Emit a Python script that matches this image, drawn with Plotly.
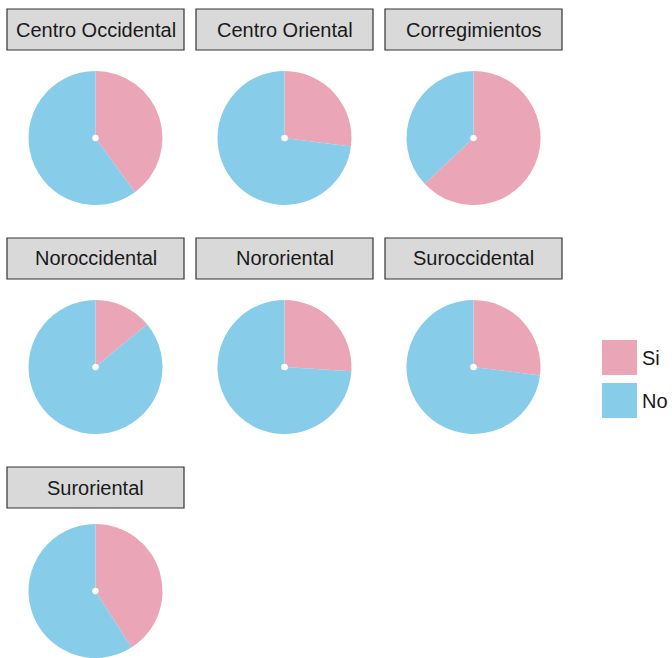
import plotly.graph_objects as go

# data
zonas = ["Centro Occidental", "Centro Oriental", "Corregimientos",
         "Noroccidental", "Nororiental", "Suroccidental", "Suroriental"]
si = [0.40, 0.27, 0.63, 0.14, 0.26, 0.27, 0.41]
no = [1 - v for v in si]
labels = ["Si", "No"]
colores = ["#EAA6B6", "#87CDE9"]

W, H = 672, 658
ncol = 3
panel_w = 177
gap_x = 12
left0 = 7
strip_top0 = 9
strip_h = 41
row_step = 229
r = 67

fig = go.Figure()
shapes = []
annots = []

for i, z in enumerate(zonas):
    row, col = divmod(i, ncol)
    x0 = left0 + col * (panel_w + gap_x)
    x1 = x0 + panel_w
    st = strip_top0 + row * row_step
    sb = st + strip_h
    cx = (x0 + x1) / 2
    cy = min(sb + 88, H - r)  # last row sits on the bottom edge

    fig.add_trace(go.Pie(
        labels=labels, values=[si[i], no[i]],
        marker=dict(colors=colores, line=dict(width=0)),
        sort=False, direction="clockwise", rotation=0,
        textinfo="none", hoverinfo="label+percent", hole=0.05,
        showlegend=False,
        domain=dict(x=[(cx - r) / W, (cx + r) / W],
                    y=[1 - (cy + r) / H, 1 - (cy - r) / H]),
    ))

    shapes.append(dict(type="rect", xref="paper", yref="paper",
                       x0=x0 / W, x1=x1 / W, y0=1 - sb / H, y1=1 - st / H,
                       fillcolor="#D9D9D9", line=dict(color="#333333", width=1.2)))
    annots.append(dict(text=z, xref="paper", yref="paper", x=cx / W, y=1 - (st + sb) / 2 / H,
                       showarrow=False, xanchor="center", yanchor="middle",
                       font=dict(size=20, color="#1A1A1A")))

# legend keys
key_x0, key_x1 = 602, 637
key_tops = [340, 383]
for lab, col, kt in zip(labels, colores, key_tops):
    shapes.append(dict(type="rect", xref="paper", yref="paper",
                       x0=key_x0 / W, x1=key_x1 / W,
                       y0=1 - (kt + 35) / H, y1=1 - kt / H,
                       fillcolor=col, line=dict(width=0)))
    annots.append(dict(text=lab, xref="paper", yref="paper",
                       x=(key_x1 + 3) / W, y=1 - (kt + 17.5) / H,
                       showarrow=False, xanchor="left", yanchor="middle",
                       font=dict(size=20, color="#1A1A1A")))

fig.update_layout(
    width=W, height=H,
    margin=dict(l=0, r=0, t=0, b=0),
    paper_bgcolor="white", plot_bgcolor="white",
    font=dict(family="Liberation Sans, Arial, sans-serif"),
    shapes=shapes, annotations=annots,
)

# drop the default page margin so the figure sits at the window's corner
fig.write_html("out.html", config={"displayModeBar": False},
               post_script="document.body.style.margin='0';document.body.style.overflow='hidden';")
